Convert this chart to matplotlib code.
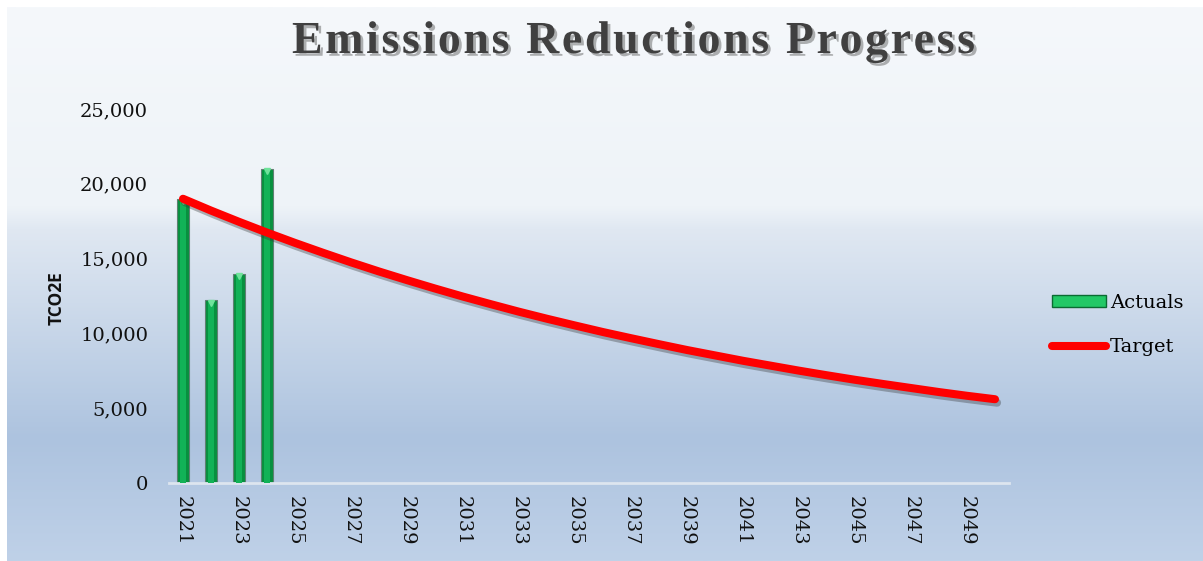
import numpy as np
import matplotlib
matplotlib.use("Agg")
import matplotlib.pyplot as plt
from matplotlib.colors import LinearSegmentedColormap
import matplotlib.patheffects as pe
from matplotlib.ticker import FuncFormatter, FixedLocator
from matplotlib.patches import Patch
from matplotlib.lines import Line2D
from matplotlib.font_manager import FontProperties
from matplotlib.textpath import TextToPath

# ---------------- data ----------------
years = list(range(2021, 2051))
actual_years = [2021, 2022, 2023, 2024]
actuals = [19000, 12200, 14000, 21000]
target = [19000, 18210, 17460, 16740, 16050, 15390, 14750, 14140, 13560, 13000,
          12460, 11950, 11450, 10980, 10530, 10090, 9680, 9280, 8890, 8530,
          8170, 7840, 7510, 7200, 6900, 6620, 6350, 6080, 5830, 5600]
tick_years = list(range(2021, 2051, 2))
yticks = [0, 5000, 10000, 15000, 20000, 25000]
title = "Emissions Reductions Progress"

W, H = 1203, 561
DPI = 100
fig = plt.figure(figsize=(W / DPI, H / DPI), dpi=DPI)
fig.patch.set_facecolor("white")

# gradient background
bg = fig.add_axes([7 / W, 0, 1 - 7 / W, 1 - 7 / H], zorder=-10)
cmap = LinearSegmentedColormap.from_list(
    "bg", [(0.0, "#f5f8fb"), (0.36, "#eef3f8"), (0.40, "#e0e8f2"),
           (0.78, "#adc3df"), (1.0, "#bfd1e8")])
bg.imshow(np.linspace(0, 1, 256).reshape(-1, 1), aspect="auto", cmap=cmap,
          extent=[0, 1, 0, 1], origin="upper")
bg.axis("off")

ax = fig.add_axes([169 / W, 78 / H, 840 / W, 374 / H])
ax.patch.set_alpha(0)
x = np.arange(len(years))
idx = [years.index(y) for y in actual_years]

# bars with a bevel-like look
ax.bar(idx, actuals, width=0.46, color="#08903f", edgecolor="#5f7f72",
       linewidth=0.8, zorder=2)
ax.bar(idx, actuals, width=0.22, color="#12b257", linewidth=0, zorder=3)
ax.plot(idx, [a - 170 for a in actuals], linestyle="none", marker="v",
        ms=5, color="#6fe39b", zorder=4)

# target line
ax.plot(x, target, color="#ff0000", lw=5.8, solid_capstyle="round", zorder=5,
        path_effects=[pe.SimpleLineShadow(offset=(1.5, -2.5), shadow_color="#333333", alpha=0.35),
                      pe.Normal()])

ax.set_xlim(-0.5, len(years) - 0.5)
ax.set_ylim(0, 25000)
ax.xaxis.set_major_locator(FixedLocator([years.index(y) for y in tick_years]))
ax.set_xticklabels([str(y) for y in tick_years], rotation=270,
                   family="DejaVu Serif", fontsize=14, color="#111111")
ax.set_yticks(yticks)
ax.yaxis.set_major_formatter(FuncFormatter(lambda v, p: f"{v:,.0f}"))
for lab in ax.get_yticklabels():
    lab.set_family("DejaVu Serif")
    lab.set_fontsize(14)
    lab.set_color("#111111")
ax.tick_params(axis="y", length=0, pad=15)
ax.tick_params(axis="x", length=0, pad=9)
for s in ["left", "right", "top"]:
    ax.spines[s].set_visible(False)
ax.spines["bottom"].set_color("#dde5ef")
ax.spines["bottom"].set_linewidth(2)

# y label
fig.text(57 / W, 1 - 298 / H, "TCO2E", rotation=90, ha="center", va="center",
         family="Open Sans", fontweight="bold", fontsize=12.5, color="#111111")

# title with letter spacing
tprop = FontProperties(family="Liberation Serif", weight="bold", size=33)
ttp = TextToPath()
widths = [ttp.get_text_width_height_descent(c, tprop, ismath=False)[0] * DPI / 72
          for c in title]
natural = sum(widths)
target_w = 683.0
extra = (target_w - natural) / (len(title) - 1)
xpos = 292.0
for c, w in zip(title, widths):
    if c != " ":
        fig.text(xpos / W, 1 - 53 / H, c, ha="left", va="baseline",
                 fontproperties=tprop, color="#404040",
                 path_effects=[pe.withSimplePatchShadow(offset=(2, -2),
                               shadow_rgbFace="#555555", alpha=0.45)])
    xpos += w + extra

# legend
handles = [Patch(facecolor="#22c866", edgecolor="#0a6b32", linewidth=1),
           Line2D([0], [0], color="#ff0000", lw=5.8, solid_capstyle="round")]
leg = fig.legend(handles, ["Actuals", "Target"], loc="center left",
                 bbox_to_anchor=(1034 / W, 1 - 325 / H), frameon=False,
                 prop={"family": "DejaVu Serif", "size": 14},
                 handlelength=2.8, handleheight=0.55, handletextpad=0.2,
                 labelspacing=1.35)

fig.savefig("out.png", dpi=DPI)
